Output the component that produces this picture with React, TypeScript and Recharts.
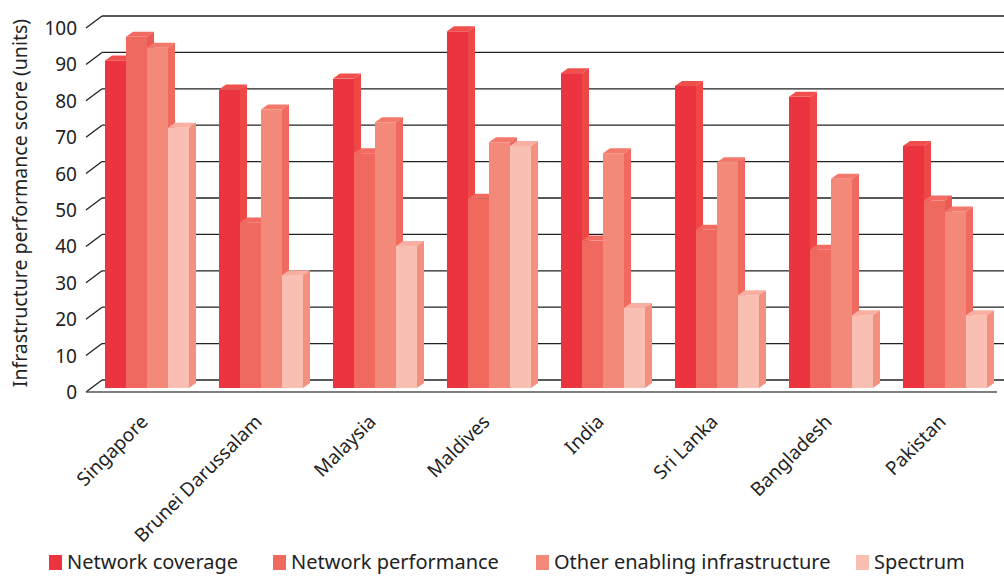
import React from 'react';
import { BarChart, Bar, XAxis, YAxis, CartesianGrid, Legend } from 'recharts';

const countries = ['Singapore', 'Brunei Darussalam', 'Malaysia', 'Maldives', 'India', 'Sri Lanka', 'Bangladesh', 'Pakistan'];
const networkCoverage = [90, 82, 85, 98, 86.5, 83, 80, 66.5];
const networkPerformance = [96.5, 45.5, 64.5, 52, 40.5, 43.5, 38, 51.5];
const otherInfrastructure = [93.5, 76.5, 73, 67.5, 64.5, 62, 57.5, 48.5];
const spectrum = [71.5, 31, 39, 66.5, 22, 25.5, 20, 20];
const yTicks = [0, 10, 20, 30, 40, 50, 60, 70, 80, 90, 100];

const data = countries.map((country, i) => ({
  country,
  coverage: networkCoverage[i],
  performance: networkPerformance[i],
  other: otherInfrastructure[i],
  spectrum: spectrum[i],
}));

const series = [
  { key: 'coverage', name: 'Network coverage', fill: '#EC3340', top: '#F0504C', side: '#EF4646' },
  { key: 'performance', name: 'Network performance', fill: '#F0695E', top: '#F26B62', side: '#EC5A53' },
  { key: 'other', name: 'Other enabling infrastructure', fill: '#F38A79', top: '#F2796B', side: '#F06A60' },
  { key: 'spectrum', name: 'Spectrum', fill: '#F9BFB2', top: '#F9B0A2', side: '#F3907F' },
];

const legendX = [49, 273, 536, 856];

const FONT = '"Noto Sans", sans-serif';
const DX = 7; // bar depth
const DY = 5;

const Bar3D = (props: any) => {
  const { x, y, width, height, fill, top, side } = props;
  if (height == null || height <= 0) return null;
  return (
    <g>
      <rect x={x} y={y} width={width} height={height} fill={fill} />
      <polygon points={`${x},${y} ${x + DX},${y - DY} ${x + width + DX},${y - DY} ${x + width},${y}`} fill={top} />
      <polygon points={`${x + width},${y} ${x + width + DX},${y - DY} ${x + width + DX},${y + height - DY} ${x + width},${y + height}`} fill={side} />
    </g>
  );
};

// y tick label + the little diagonal from the front axis to the back wall
const YTick = (props: any) => {
  const { y, payload } = props;
  return (
    <g>
      <text x={77} y={y + 4} textAnchor="end" dominantBaseline="central" fontSize={19} fill="#222" fontFamily={FONT}>
        {payload.value}
      </text>
      <line x1={86} y1={y + 4} x2={102} y2={y - 8} stroke="#222" strokeWidth={1.3} />
      {payload.value === 0 && <line x1={86} y1={y + 4} x2={997} y2={y + 4} stroke="#555" strokeWidth={1.5} />}
    </g>
  );
};

const XTick = (props: any) => {
  const { x, y, payload } = props;
  const ax = x + 2;
  const ay = y + 27;
  return (
    <text x={ax} y={ay} textAnchor="end" fontSize={19} fill="#222" fontFamily={FONT} transform={`rotate(-45, ${ax}, ${ay})`}>
      {payload.value}
    </text>
  );
};

const renderLegend = () => (
  <div style={{ position: 'relative', width: 1004, height: 26, fontFamily: FONT }}>
    {series.map((s, i) => (
      <div key={s.key} style={{ position: 'absolute', left: legendX[i], top: 0, height: 26, display: 'flex', alignItems: 'center' }}>
        <span style={{ display: 'inline-block', width: 13, height: 15, background: s.fill, marginRight: 5 }} />
        <span style={{ fontSize: 20, lineHeight: '26px', color: '#222', whiteSpace: 'nowrap' }}>{s.name}</span>
      </div>
    ))}
  </div>
);

export default function App() {
  return (
    <div style={{ position: 'absolute', left: 0, top: 0, width: 1004, height: 576, background: '#fff', overflow: 'hidden' }}>
      <BarChart width={1004} height={576} data={data} margin={{ top: 24, right: 2, left: 0, bottom: 0 }} barGap={0} barSize={21}>
        <CartesianGrid
          vertical={false}
          horizontal={(p: any) => (
            <line key={p.key ?? `g-${p.y1}`} x1={102} x2={1004} y1={p.y1 - 8} y2={p.y2 - 8} stroke="#222" strokeWidth={1.3} />
          )}
        />
        <XAxis dataKey="country" height={188} axisLine={false} tickLine={false} interval={0} tick={<XTick />} />
        <YAxis
          width={90}
          domain={[0, 100]}
          ticks={yTicks}
          axisLine={false}
          tickLine={false}
          tick={<YTick />}
          label={{
            value: 'Infrastructure performance score (units)',
            angle: -90,
            position: 'insideLeft',
            offset: 0,
            dx: 20,
            dy: -3,
            style: { fontSize: 19.5, fill: '#222', fontFamily: FONT, textAnchor: 'middle' },
          }}
        />
        <Legend
          layout="horizontal"
          verticalAlign="middle"
          align="center"
          content={renderLegend}
          wrapperStyle={{ top: 549, left: 0, width: 1004 }}
        />
        {series.map((s) => (
          <Bar
            key={s.key}
            dataKey={s.key}
            name={s.name}
            fill={s.fill}
            isAnimationActive={false}
            shape={(p: any) => <Bar3D {...p} fill={s.fill} top={s.top} side={s.side} />}
          />
        ))}
      </BarChart>
    </div>
  );
}
